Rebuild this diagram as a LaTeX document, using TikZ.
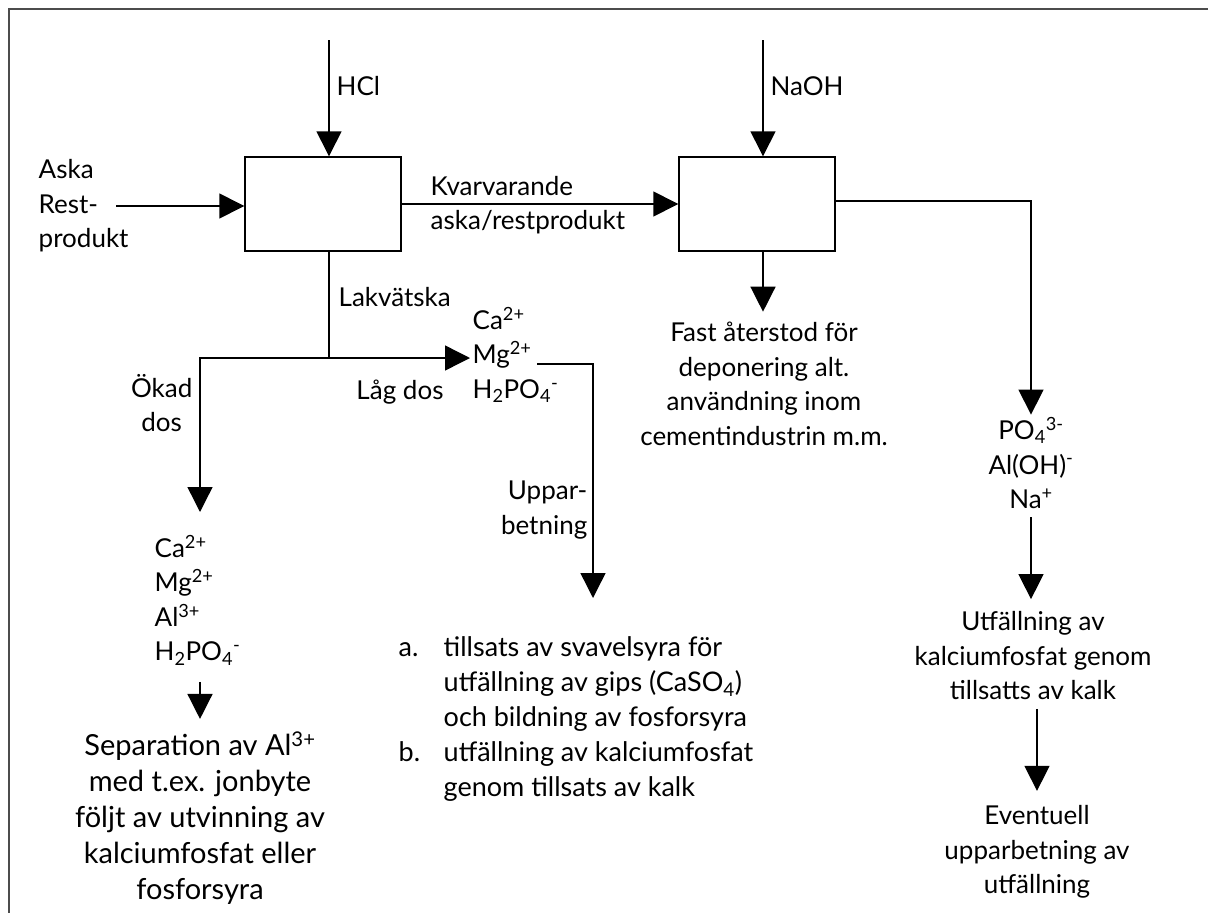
\documentclass[tikz,border=0pt]{standalone}
\usepackage{fontspec}
\setmainfont{Lato}
\usetikzlibrary{arrows.meta}
\begin{document}
\begin{tikzpicture}[x=1pt,y=-1pt,
  line width=1.4pt,
  arr/.style={-{Triangle[length=25pt,width=25pt]}},
  box/.style={draw, rectangle, minimum width=156pt, minimum height=94pt, inner sep=0pt},
  txt/.style={font=\fontsize{26}{34.5}\selectfont, inner sep=2pt, align=center},
  bigtxt/.style={txt, font=\fontsize{29}{36}\selectfont},
  listtxt/.style={txt, font=\fontsize{27}{35}\selectfont},
  frameline/.style={draw=black!70, line width=2pt}]
\useasboundingbox (0,0) rectangle (1208,913);
\draw[frameline] (9,913) -- (9,9) -- (1208,9);

\node[box] (b1) at (323,204) {};
\node[box] (b2) at (757,204) {};
\coordinate (hcl) at (329,40);
\coordinate (naoh) at (763,40);
\draw[arr] (hcl) -- (hcl |- b1.north);
\draw[arr] (naoh) -- (naoh |- b2.north);
\node[txt, anchor=west] (hcllab) at (334,86) {HCl};
\node[txt, anchor=west] (naohlab) at (768,86) {NaOH};

\node[txt, anchor=west, align=left] (feed) at (36,206) {Aska\\Rest-\\produkt};
\draw[arr] ([xshift=80pt]feed.west) -- (feed.west -| b1.west);

\draw[arr] (b1.east) -- (b2.west);
\node[txt, anchor=west] (kv1) at (428,186) {Kvarvarande};
\node[txt, anchor=west] (kv2) at (428,222) {aska/restprodukt};

\coordinate (j) at (329,358);
\draw (j |- b1.south) -- (j);
\node[txt, anchor=west] (lak) at (336,297) {Lakvätska};

\node[txt, anchor=west, align=left] (mid) at (470,355) {Ca\textsuperscript{2+}\\Mg\textsuperscript{2+}\\H\textsubscript{2}PO\textsubscript{4}\textsuperscript{-}};
\draw[arr] (j) -- (j -| mid.west);

\coordinate (lt) at (200,512);
\draw[arr] (j) -| (lt);
\node[txt, anchor=east] (okad) at (195,403) {Ökad\\dos};
\node[txt] (lag) at (400,392) {Låg dos};

\node[txt, anchor=west, align=left] (lions) at (152,600) {Ca\textsuperscript{2+}\\Mg\textsuperscript{2+}\\Al\textsuperscript{3+}\\H\textsubscript{2}PO\textsubscript{4}\textsuperscript{-}};
\node[bigtxt] (sep) at (200,818) {Separation av Al\textsuperscript{3+}\\med t.ex. jonbyte\\följt av utvinning av\\kalciumfosfat eller\\fosforsyra};
\draw[arr] ([yshift=-14pt]sep.north |- lions.south) -- ([yshift=10pt]sep.north);

\coordinate (ms) at (537,364);
\coordinate (ut) at (593,598);
\draw[arr] (ms) -| (ut);
\node[txt, anchor=east, align=right] (upp) at (590,510) {Uppar-\\betning};

\node[listtxt, anchor=north west, align=left] (list) at (396,634) {\makebox[45pt][l]{a.}tillsats av svavelsyra för\\\hspace*{45pt}utfällning av gips (CaSO\textsubscript{4})\\\hspace*{45pt}och bildning av fosforsyra\\\makebox[45pt][l]{b.}utfällning av kalciumfosfat\\\hspace*{45pt}genom tillsats av kalk};

\node[txt] (fast) at (764,384) {Fast återstod för\\deponering alt.\\användning inom\\cementindustrin m.m.};
\draw[arr] (naoh |- b2.south) -- ([yshift=8pt]fast.north -| naoh);

\node[txt] (pion) at (1031,463) {PO\textsubscript{4}\textsuperscript{3-}\\Al(OH)\textsuperscript{-}\\Na\textsuperscript{+}};
\draw[arr] ([yshift=3pt]b2.east) -| (pion.north);

\node[txt] (utf) at (1033,656) {Utfällning av\\kalciumfosfat genom\\tillsatts av kalk};
\draw[arr] ([yshift=-6pt]pion.south) -- ([yshift=10pt]utf.north -| pion.south);

\node[txt] (ev) at (1037,852) {Eventuell\\upparbetning av\\utfällning};
\draw[arr] ([yshift=-6pt]utf.south -| ev.north) -- ([yshift=12pt]ev.north);
\end{tikzpicture}
\end{document}
